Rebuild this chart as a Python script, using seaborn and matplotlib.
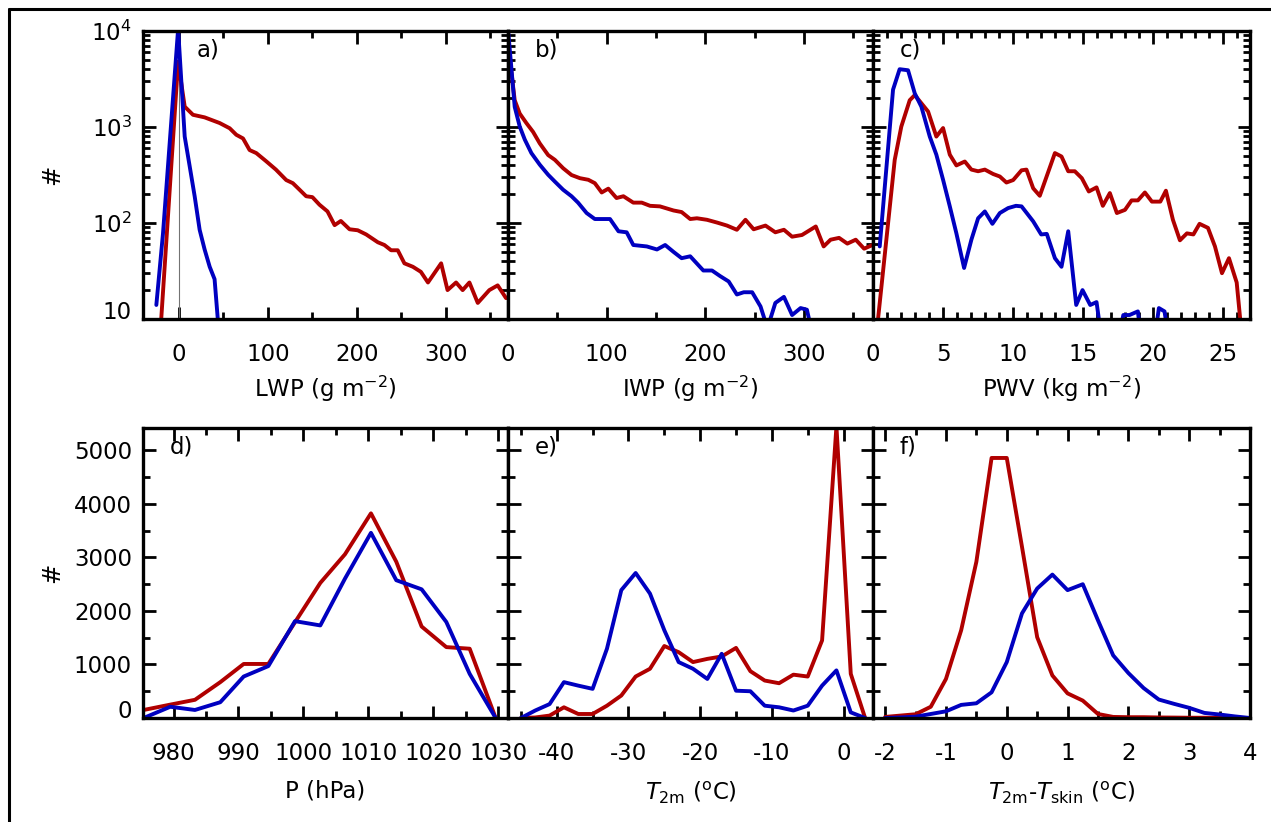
import matplotlib
matplotlib.use("Agg")
import matplotlib.pyplot as plt
import seaborn as sns
from matplotlib.lines import Line2D
from matplotlib.ticker import MultipleLocator, FixedLocator, NullFormatter, LogLocator

RED = "#b00000"
BLUE = "#0000c0"

# ---- a) LWP (log counts)
lwp_x_red = [-20, -1, 6.4, 15.7, 28.8, 45.7, 57, 64.4, 72, 79.4, 86.9, 98, 109, 120.6, 128,
             135.6, 143, 150, 158, 167, 175, 182, 191.8, 201, 210.5, 223.6, 231, 238.5, 246,
             253.5, 263, 272, 280, 294.8, 302, 311.6, 319, 326.6, 336, 349, 358.4, 367.8]
lwp_red = [10, 4800, 1630, 1340, 1260, 1100, 970, 830, 760, 575, 535, 440, 360, 280, 260,
           222, 190, 186, 155, 132, 95, 105, 86, 84, 76, 63, 59, 52, 52,
           38, 35, 31, 24, 38, 20, 24, 20, 24, 14.7, 20, 22.4, 16.5]
lwp_x_blue = [-25.5, -18, -1, 6.4, 12, 17.6, 23.2, 28.8, 34.5, 40, 44]
lwp_blue = [14, 78, 10500, 795, 390, 190, 85, 53, 35, 26, 9]

# ---- b) IWP
iwp_x_red = [0, 6.8, 11.9, 18.6, 25.4, 32.2, 40.7, 47.5, 55.9, 64.4, 72.9, 81.4, 88, 95,
             101.7, 110, 117, 127, 135.6, 144, 154, 167.8, 176, 184.7, 191.5, 201.7, 212,
             222, 232, 240.7, 249, 261, 271, 279.7, 288, 298, 312, 320, 327, 335.6, 344,
             352.5, 361, 369.5]
iwp_red = [7500, 1900, 1380, 1100, 890, 675, 510, 455, 372, 316, 293, 282, 260, 208,
           228, 182, 190, 163, 163, 151, 149, 135, 130, 110, 112, 108, 101,
           94, 85, 108, 86, 94, 80, 85, 72, 75, 92, 57, 67, 70, 61,
           67, 54, 59]
iwp_x_blue = [0, 6.8, 11.9, 17, 23.7, 32.2, 40.7, 47.5, 55.9, 64.4, 71, 79.7, 88, 103.4,
              112, 120.3, 127, 140.7, 151, 159.3, 167.8, 176, 184.7, 198, 206.8, 215,
              223.7, 232, 239, 247.5, 256, 263, 271, 279.7, 288, 296.6, 303, 310]
iwp_blue = [10500, 1620, 1010, 740, 535, 405, 318, 270, 222, 190, 163, 127, 110, 110,
            82, 80, 59, 57, 53, 59, 50, 43, 45, 32, 32, 28,
            24.6, 18, 19, 19, 13.5, 8, 14.7, 17, 11, 13, 12.5, 6]

# ---- c) PWV
pwv_x_red = [0.36, 1.55, 2.02, 2.62, 2.98, 3.93, 4.52, 5.0, 5.48, 5.95, 6.55, 7.02, 7.5,
             7.98, 8.57, 9.05, 9.52, 10.0, 10.6, 10.95, 11.43, 11.9, 12.98, 13.45, 13.93,
             14.4, 14.9, 15.4, 15.95, 16.4, 16.9, 17.4, 17.98, 18.45, 18.9, 19.4, 19.9,
             20.5, 20.9, 21.4, 21.9, 22.4, 22.86, 23.3, 23.9, 24.4, 24.9, 25.4, 25.95, 26.2]
pwv_red = [10, 455, 1010, 1900, 2150, 1450, 795, 975, 515, 398, 437, 360, 346,
           360, 324, 305, 264, 280, 354, 360, 230, 192, 535, 493, 346,
           346, 293, 213, 235, 151, 205, 127, 137, 172, 172, 208, 167,
           167, 217, 108, 66, 78, 76, 98, 89, 57, 30, 43, 24, 10]
pwv_x_blue = [0.48, 1.43, 1.9, 2.5, 2.98, 3.45, 4.05, 4.52, 5.0, 5.48, 5.95, 6.5, 7.02,
              7.5, 7.98, 8.52, 9.05, 9.64, 10.2, 10.6, 11.43, 12.0, 12.4, 12.98, 13.45,
              13.93, 14.5, 14.95, 15.5, 15.95, 16.4, 17.4, 17.86, 18.3, 18.9, 19.2, 20.0,
              20.4, 20.8, 21.2]
pwv_blue = [57, 2450, 4000, 3900, 2240, 1630, 795, 515, 282, 149, 78, 34, 67,
            112, 132, 98, 127, 143, 151, 149, 104, 76, 77, 43, 35,
            82, 14, 20, 14, 15, 5, 5, 11, 11, 12, 5, 5,
            13, 12, 5]

# ---- d) surface pressure
p_x = [975.4, 979.5, 983.3, 987.2, 990.8, 994.6, 998.7, 1002.6, 1006.4, 1010.4, 1014.3,
       1018.2, 1022.0, 1025.6, 1029.6]
p_red = [150, 250, 340, 670, 1010, 1010, 1790, 2525, 3060, 3825, 2920, 1710, 1325, 1295, 0]
p_blue = [0, 210, 150, 295, 775, 970, 1810, 1730, 2605, 3460, 2575, 2405, 1795, 825, 0]

# ---- e) 2 m temperature
t2m_x = [-45, -43, -41, -39, -37, -35, -33, -31, -29, -27, -25, -23, -21, -19, -17, -15,
         -13, -11, -9, -7, -5, -3, -1, 1, 3]
t2m_red = [0, 10, 45, 200, 75, 75, 230, 420, 775, 920, 1345, 1230, 1045, 1105, 1150, 1310,
           875, 700, 650, 810, 775, 1450, 5450, 825, 0]
t2m_blue = [0, 140, 260, 670, 605, 545, 1295, 2390, 2710, 2325, 1640, 1045, 920, 730, 1200,
            510, 500, 230, 200, 140, 230, 605, 890, 105, 0]

# ---- f) T2m - Tskin
dt_x = [-2, -1.75, -1.5, -1.25, -1, -0.75, -0.5, -0.25, 0, 0.25, 0.5, 0.75, 1, 1.25, 1.5,
        1.75, 2, 2.25, 2.5, 2.75, 3, 3.25, 3.5, 3.75, 4]
dt_red = [20, 45, 70, 210, 730, 1640, 2920, 4860, 4860, 3200, 1510, 795, 460, 325, 75,
          20, 15, 15, 10, 8, 5, 5, 3, 2, 0]
dt_blue = [0, 10, 25, 75, 125, 245, 275, 480, 1045, 1955, 2420, 2680, 2390, 2500, 1825,
           1170, 840, 560, 345, 265, 190, 95, 65, 30, 0]

lin_ticks = [0, 1000, 2000, 3000, 4000, 5000]
log_ticks = [10, 100, 1000, 10000]
log_labels = ["10", r"$10^2$", r"$10^3$", r"$10^4$"]

sns.set_theme(style="ticks")
plt.rcParams["font.family"] = ["DejaVu Sans"]
plt.rcParams["mathtext.fontset"] = "dejavusans"
plt.rcParams["axes.unicode_minus"] = False
plt.rcParams["text.color"] = "black"
plt.rcParams["axes.labelcolor"] = "black"
FS = 16.5

W, H = 1271, 822
fig = plt.figure(figsize=(W / 100, H / 100), dpi=100)
fig.patch.set_facecolor("white")

cols = [(143, 365), (508, 365), (873, 377)]
rows = [(31, 288), (428, 290)]


def make_ax(col, row):
    x0, w = cols[col]
    y0, h = rows[row]
    return fig.add_axes([x0 / W, 1 - (y0 + h) / H, w / W, h / H])


def style(ax, xlim, xmaj, xmin, label, tag, tagx, ylabels, lpad):
    ax.set_xlim(*xlim)
    ax.xaxis.set_major_locator(MultipleLocator(xmaj))
    ax.xaxis.set_minor_locator(MultipleLocator(xmin))
    ax.tick_params(which="both", direction="in", top=True, right=True,
                   labelsize=FS, width=2.0, colors="black")
    ax.tick_params(which="major", length=9, pad=8)
    ax.tick_params(which="minor", length=5)
    ax.tick_params(axis="x", which="major", pad=17)
    for s in ax.spines.values():
        s.set_linewidth(2.4)
        s.set_color("black")
    ax.set_xlabel(label, fontsize=FS, labelpad=lpad, color="black")
    ax.set_ylabel("")
    if not ylabels:
        ax.tick_params(axis="y", labelleft=False)
    ax.text(tagx, 0.933, tag, transform=ax.transAxes, fontsize=FS, va="center", ha="left",
            color="black")


def draw(ax, x, y, color):
    sns.lineplot(x=x, y=y, ax=ax, color=color, lw=2.8, estimator=None, sort=False)


top = [
    (lwp_x_red, lwp_red, lwp_x_blue, lwp_blue, (-40.5, 370), 100, 50, r"LWP (g m$^{-2}$)", "a)"),
    (iwp_x_red, iwp_red, iwp_x_blue, iwp_blue, (0, 370), 100, 50, r"IWP (g m$^{-2}$)", "b)"),
    (pwv_x_red, pwv_red, pwv_x_blue, pwv_blue, (0, 26.9), 5, 1, r"PWV (kg m$^{-2}$)", "c)"),
]
for i, (xr, yr, xb, yb, xlim, mj, mn, lab, tag) in enumerate(top):
    ax = make_ax(i, 0)
    ax.set_yscale("log")
    if i == 0:
        ax.axvline(0, color="0.45", lw=0.8, zorder=1)
    draw(ax, xr, yr, RED)
    draw(ax, xb, yb, BLUE)
    ax.set_ylim(10, 10000)
    ax.yaxis.set_major_locator(FixedLocator(log_ticks))
    ax.yaxis.set_minor_locator(LogLocator(base=10, subs=range(2, 10)))
    ax.yaxis.set_minor_formatter(NullFormatter())
    ax.set_yticklabels(log_labels)
    tagx = 54 / 365 if i == 0 else 27 / cols[i][1]
    style(ax, xlim, mj, mn, lab, tag, tagx, i == 0, 6)
    if i == 0:
        ax.yaxis.get_major_ticks()[0].label1.set_va("baseline")
        ax.set_ylabel("#", fontsize=FS + 1, color="black")
        ax.yaxis.set_label_coords(-0.215, 0.5)

bottom = [
    (p_x, p_red, p_x, p_blue, (975.3, 1031.5), 10, 5, "P (hPa)", "d)"),
    (t2m_x, t2m_red, t2m_x, t2m_blue, (-46.8, 4.1), 10, 5,
     r"$T_{\mathrm{2m}}$ ($^{\mathrm{o}}$C)", "e)"),
    (dt_x, dt_red, dt_x, dt_blue, (-2.2, 4), 1, 0.5,
     r"$T_{\mathrm{2m}}$-$T_{\mathrm{skin}}$ ($^{\mathrm{o}}$C)", "f)"),
]
for i, (xr, yr, xb, yb, xlim, mj, mn, lab, tag) in enumerate(bottom):
    ax = make_ax(i, 1)
    draw(ax, xr, yr, RED)
    draw(ax, xb, yb, BLUE)
    ax.set_ylim(0, 5420)
    ax.yaxis.set_major_locator(FixedLocator(lin_ticks))
    ax.yaxis.set_minor_locator(MultipleLocator(500))
    style(ax, xlim, mj, mn, lab, tag, 27 / cols[i][1], i == 0, 11)
    if i == 0:
        ax.yaxis.get_major_ticks()[0].label1.set_va("baseline")
        ax.set_ylabel("#", fontsize=FS + 1, color="black")
        ax.yaxis.set_label_coords(-0.215, 0.5)

# frame drawn around the figure (left and top edges)
fig.add_artist(Line2D([9 / W, 9 / W], [0, 1 - 9 / H], transform=fig.transFigure,
                      color="black", lw=2.2))
fig.add_artist(Line2D([9 / W, 1], [1 - 9 / H, 1 - 9 / H], transform=fig.transFigure,
                      color="black", lw=2.2))

fig.savefig("out.png", dpi=100, facecolor="white")
